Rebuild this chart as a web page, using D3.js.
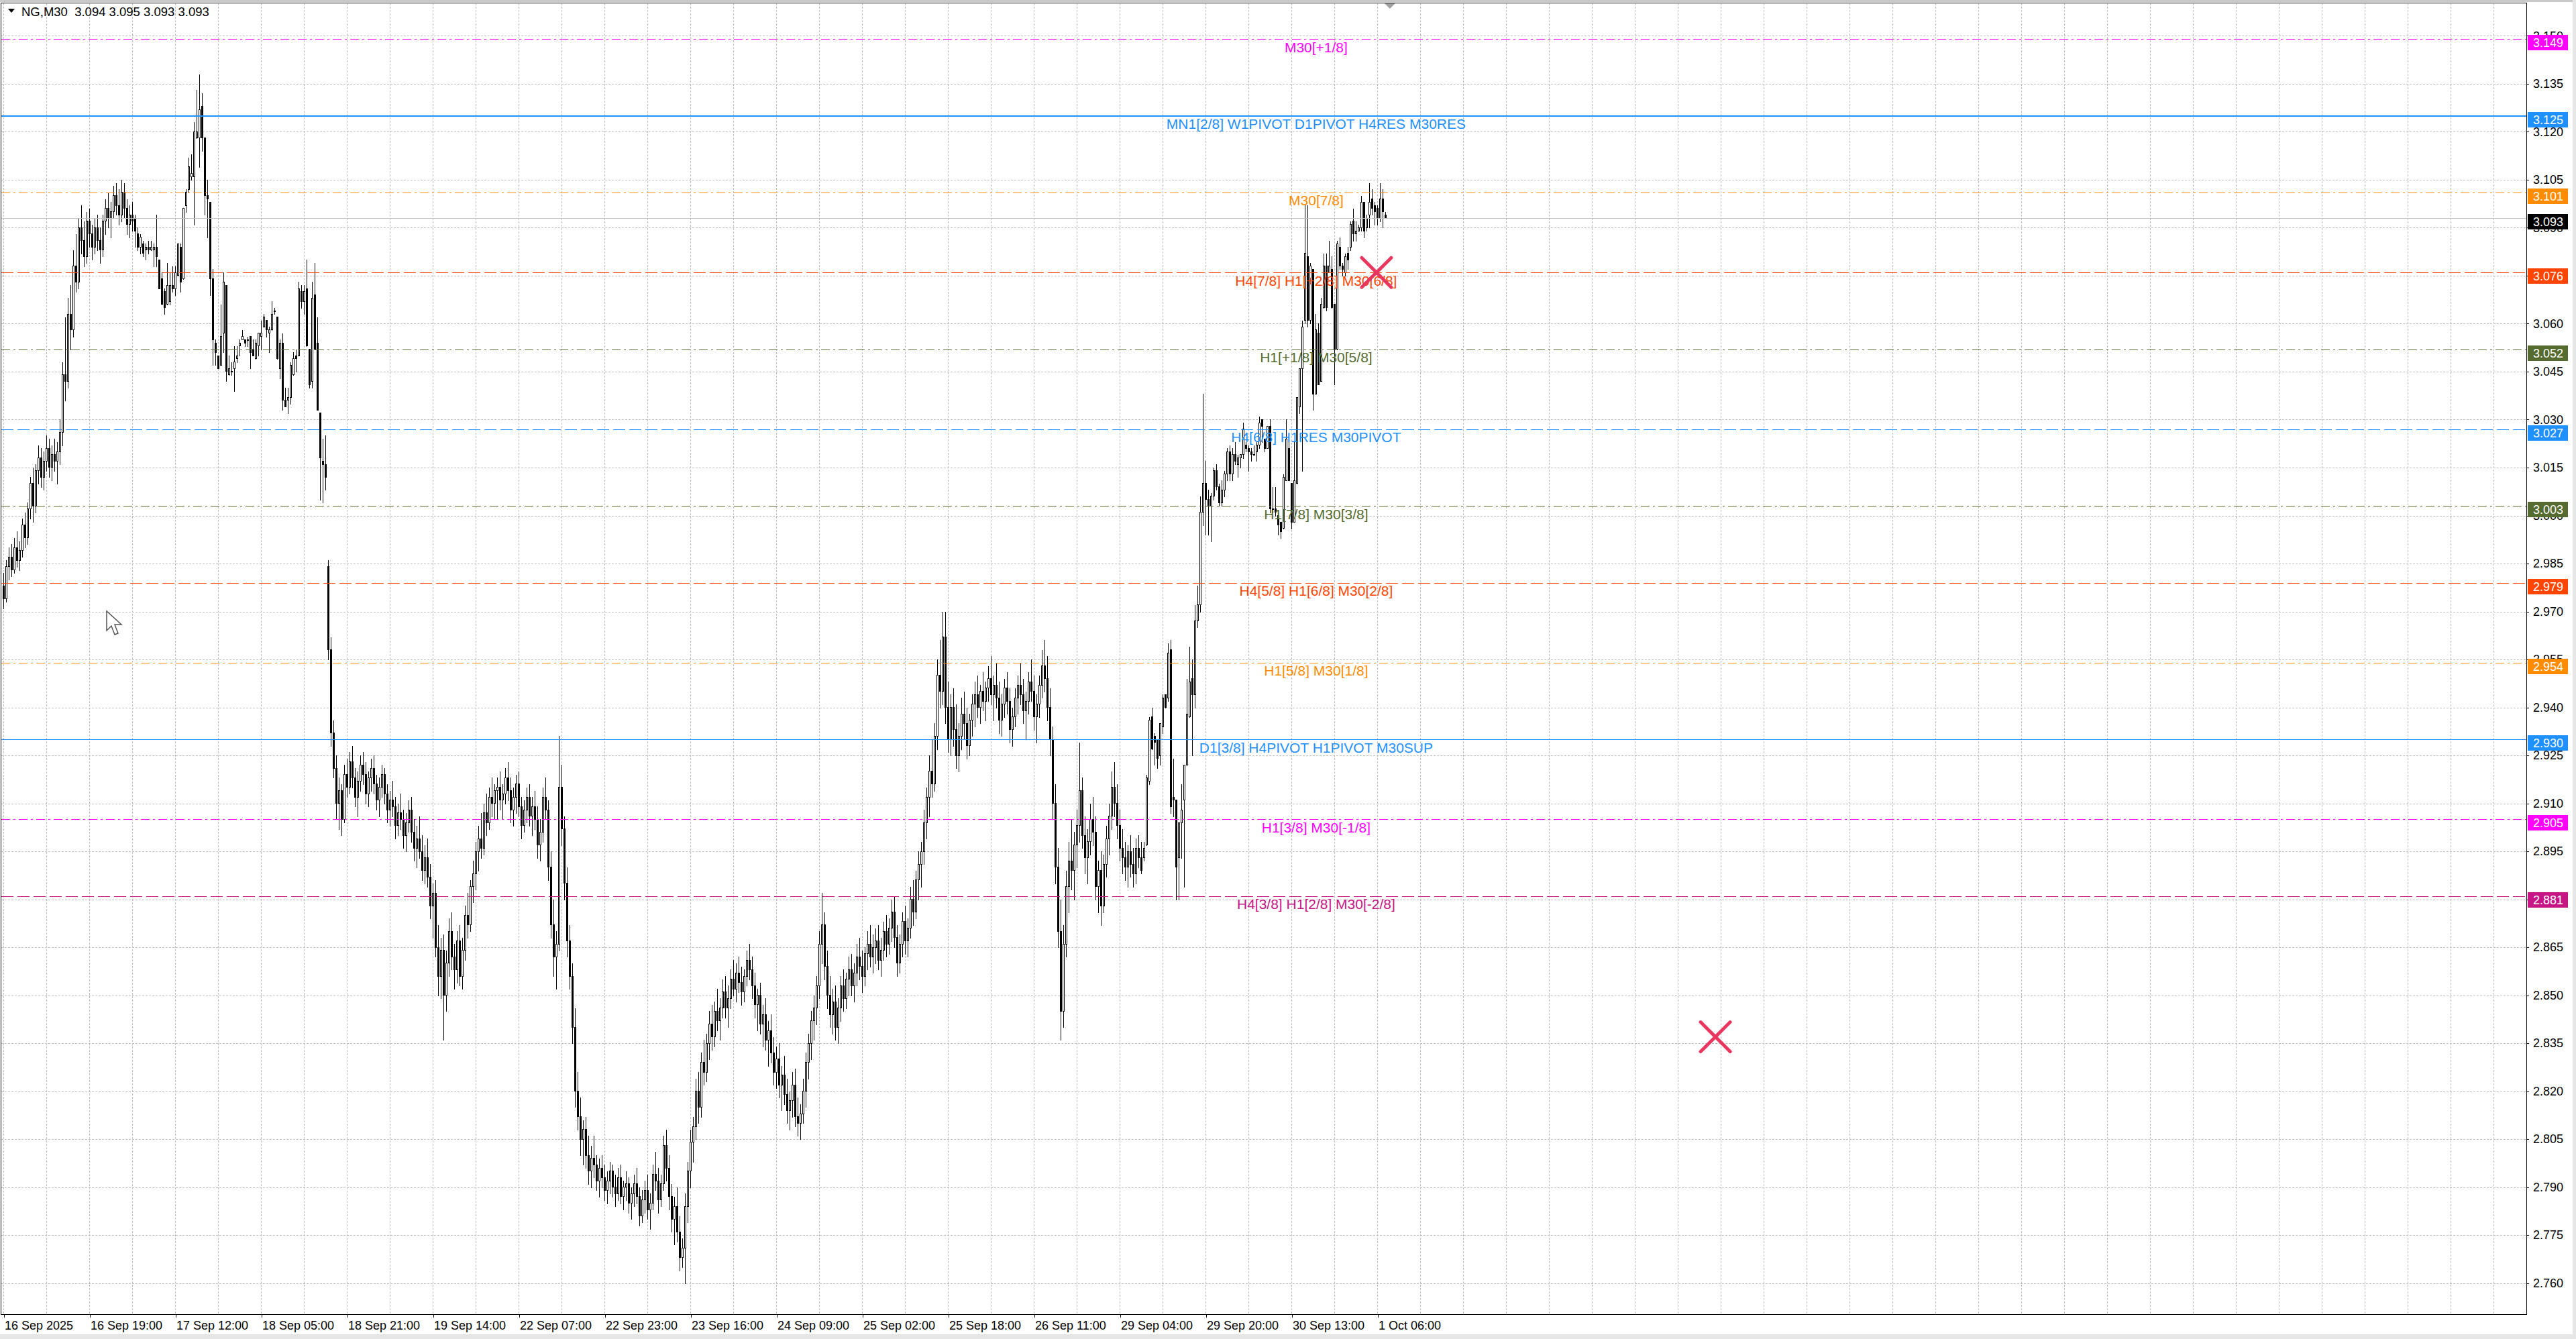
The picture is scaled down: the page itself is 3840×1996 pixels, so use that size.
<!DOCTYPE html>
<html>
<head>
<meta charset="utf-8">
<title>NG,M30</title>
<script src="https://d3js.org/d3.v7.min.js"></script>
<style>
  body { margin: 0; background: #ffffff; }
  svg { display: block; font-family: "Liberation Sans", Arial, sans-serif; }
</style>
</head>
<body>
<div id="chart"></div>
<script>
// NG M30 candles (bar 0 = 16 Sep, one bar per 30 min)
const opens = [
2.978,2.974,2.984,2.987,2.983,2.990,2.986,2.989,2.997,2.993,
3.002,3.010,3.003,3.014,3.018,3.012,3.017,3.021,3.015,3.019,
3.017,3.020,3.026,3.044,3.042,3.063,3.058,3.078,3.073,3.090,
3.086,3.081,3.092,3.088,3.084,3.090,3.086,3.083,3.092,3.096,
3.093,3.095,3.100,3.097,3.094,3.101,3.096,3.091,3.094,3.093,
3.088,3.084,3.085,3.083,3.084,3.083,3.083,3.084,3.080,3.074,
3.070,3.066,3.067,3.072,3.071,3.075,3.084,3.074,3.097,3.102,
3.106,3.106,3.118,3.118,3.128,3.118,3.100,3.098,3.074,3.054,
3.050,3.047,3.057,3.072,3.044,3.045,3.046,3.049,3.053,3.055,
3.055,3.055,3.056,3.052,3.049,3.053,3.056,3.059,3.061,3.057,
3.058,3.064,3.062,3.046,3.054,3.036,3.036,3.037,3.044,3.050,
3.050,3.070,3.067,3.071,3.052,3.042,3.069,3.054,3.032,3.017,
3.016,2.984,2.958,2.932,2.921,2.910,2.914,2.905,2.919,2.915,
2.923,2.918,2.912,2.917,2.922,2.919,2.913,2.918,2.921,2.916,
2.911,2.915,2.919,2.913,2.908,2.911,2.909,2.903,2.907,2.905,
2.900,2.904,2.908,2.901,2.896,2.899,2.895,2.889,2.893,2.887,
2.878,2.882,2.865,2.856,2.864,2.850,2.860,2.870,2.862,2.858,
2.867,2.856,2.864,2.875,2.872,2.884,2.888,2.895,2.899,2.896,
2.907,2.904,2.912,2.910,2.914,2.915,2.911,2.913,2.918,2.914,
2.908,2.912,2.916,2.909,2.903,2.908,2.912,2.906,2.909,2.905,
2.897,2.901,2.912,2.908,2.890,2.872,2.862,2.866,2.915,2.902,
2.885,2.867,2.856,2.840,2.820,2.812,2.805,2.808,2.800,2.795,
2.799,2.797,2.792,2.796,2.793,2.789,2.792,2.795,2.790,2.788,
2.793,2.787,2.790,2.791,2.785,2.788,2.791,2.787,2.781,2.786,
2.789,2.783,2.785,2.794,2.792,2.786,2.791,2.803,2.796,2.787,
2.780,2.784,2.776,2.768,2.771,2.784,2.795,2.804,2.809,2.820,
2.815,2.829,2.826,2.835,2.841,2.837,2.845,2.842,2.846,2.851,
2.846,2.849,2.855,2.852,2.857,2.854,2.851,2.856,2.861,2.858,
2.853,2.847,2.850,2.841,2.844,2.836,2.839,2.832,2.826,2.830,
2.822,2.825,2.819,2.814,2.817,2.822,2.812,2.810,2.813,2.820,
2.829,2.835,2.842,2.846,2.853,2.866,2.872,2.859,2.850,2.844,
2.848,2.840,2.846,2.853,2.849,2.855,2.858,2.853,2.857,2.862,
2.859,2.856,2.863,2.866,2.862,2.865,2.867,2.861,2.864,2.870,
2.866,2.871,2.876,2.868,2.860,2.866,2.873,2.867,2.871,2.880,
2.876,2.886,2.891,2.895,2.904,2.912,2.920,2.916,2.931,2.950,
2.945,2.962,2.940,2.930,2.940,2.933,2.925,2.931,2.938,2.935,
2.928,2.936,2.941,2.944,2.940,2.945,2.942,2.946,2.949,2.944,
2.947,2.943,2.936,2.941,2.946,2.942,2.933,2.937,2.943,2.947,
2.944,2.939,2.942,2.948,2.945,2.937,2.941,2.947,2.953,2.949,
2.940,2.930,2.910,2.890,2.870,2.845,2.866,2.884,2.892,2.889,
2.897,2.903,2.914,2.900,2.893,2.898,2.905,2.901,2.884,2.889,
2.878,2.891,2.899,2.906,2.915,2.910,2.903,2.896,2.893,2.890,
2.895,2.891,2.888,2.896,2.893,2.893,2.897,2.917,2.937,2.931,
2.930,2.925,2.934,2.944,2.943,2.958,2.912,2.911,2.893,2.904,
2.911,2.922,2.937,2.949,2.944,2.967,2.972,3.001,3.010,3.005,
3.003,3.006,3.014,3.009,3.004,3.008,3.013,3.020,3.013,3.019,
3.016,3.018,3.019,3.022,3.021,3.020,3.019,3.020,3.022,3.030,
3.024,3.021,3.028,3.002,3.002,3.000,2.998,2.996,3.011,3.021,
3.010,2.998,3.010,3.034,3.046,3.061,3.081,3.061,3.077,3.038,
3.057,3.042,3.065,3.078,3.076,3.077,3.066,3.052,3.084,3.078,
3.076,3.082,3.084,3.092,3.088,3.089,3.090,3.098,3.090,3.094,
3.099,3.097,3.096,3.093,3.099,3.094];

const highs = [
2.982,2.986,2.990,2.991,2.993,2.995,2.992,2.999,3.001,3.004,
3.012,3.015,3.016,3.022,3.021,3.020,3.025,3.024,3.022,3.024,
3.023,3.030,3.048,3.062,3.068,3.072,3.083,3.088,3.093,3.097,
3.092,3.095,3.096,3.091,3.093,3.094,3.090,3.094,3.099,3.101,
3.098,3.103,3.104,3.102,3.105,3.104,3.099,3.097,3.098,3.094,
3.090,3.088,3.086,3.085,3.086,3.086,3.085,3.094,3.080,3.076,
3.071,3.079,3.076,3.078,3.078,3.085,3.085,3.096,3.102,3.112,
3.113,3.123,3.133,3.138,3.132,3.118,3.105,3.098,3.077,3.055,
3.050,3.066,3.076,3.072,3.050,3.048,3.053,3.053,3.055,3.058,
3.055,3.056,3.056,3.055,3.055,3.057,3.061,3.063,3.061,3.059,
3.067,3.065,3.062,3.055,3.057,3.040,3.040,3.048,3.051,3.052,
3.073,3.072,3.072,3.080,3.052,3.073,3.079,3.062,3.032,3.024,
3.025,2.986,2.962,2.936,2.925,2.918,2.916,2.922,2.924,2.926,
2.928,2.921,2.920,2.925,2.926,2.923,2.920,2.924,2.925,2.919,
2.918,2.922,2.921,2.916,2.914,2.917,2.912,2.910,2.913,2.908,
2.907,2.911,2.912,2.905,2.903,2.906,2.900,2.897,2.899,2.891,
2.885,2.886,2.872,2.868,2.869,2.864,2.874,2.876,2.866,2.870,
2.872,2.868,2.878,2.882,2.886,2.892,2.898,2.903,2.907,2.910,
2.913,2.915,2.918,2.916,2.918,2.920,2.916,2.921,2.923,2.918,
2.915,2.919,2.920,2.912,2.911,2.915,2.916,2.912,2.914,2.909,
2.905,2.915,2.918,2.911,2.895,2.880,2.870,2.931,2.922,2.906,
2.890,2.872,2.860,2.846,2.826,2.818,2.811,2.812,2.806,2.803,
2.806,2.800,2.799,2.800,2.797,2.795,2.798,2.797,2.794,2.796,
2.797,2.792,2.795,2.793,2.790,2.794,2.796,2.790,2.789,2.792,
2.794,2.788,2.797,2.801,2.796,2.794,2.806,2.808,2.800,2.791,
2.787,2.790,2.781,2.774,2.788,2.798,2.808,2.812,2.824,2.826,
2.832,2.836,2.838,2.845,2.847,2.848,2.852,2.849,2.855,2.856,
2.853,2.858,2.861,2.860,2.862,2.859,2.858,2.864,2.866,2.862,
2.857,2.852,2.854,2.847,2.849,2.842,2.844,2.837,2.834,2.835,
2.828,2.831,2.824,2.820,2.826,2.827,2.818,2.816,2.824,2.832,
2.838,2.845,2.850,2.856,2.870,2.882,2.876,2.864,2.856,2.852,
2.853,2.849,2.856,2.858,2.857,2.862,2.863,2.860,2.866,2.868,
2.864,2.865,2.870,2.872,2.869,2.871,2.872,2.868,2.873,2.875,
2.874,2.880,2.881,2.872,2.869,2.876,2.878,2.874,2.884,2.886,
2.889,2.895,2.898,2.908,2.915,2.925,2.930,2.935,2.955,2.961,
2.970,2.970,2.948,2.944,2.946,2.941,2.935,2.943,2.945,2.940,
2.938,2.944,2.948,2.950,2.947,2.951,2.948,2.953,2.956,2.950,
2.954,2.948,2.944,2.949,2.951,2.946,2.940,2.946,2.950,2.954,
2.949,2.945,2.951,2.955,2.950,2.944,2.950,2.958,2.961,2.956,
2.946,2.934,2.916,2.896,2.880,2.872,2.889,2.898,2.905,2.901,
2.908,2.929,2.918,2.906,2.902,2.910,2.912,2.906,2.892,2.895,
2.894,2.903,2.910,2.920,2.923,2.916,2.908,2.902,2.898,2.897,
2.900,2.896,2.899,2.900,2.898,2.898,2.919,2.937,2.940,2.932,
2.930,2.935,2.944,2.944,2.960,2.961,2.924,2.911,2.904,2.916,
2.922,2.949,2.959,2.955,2.972,2.978,3.006,3.038,3.017,3.008,
3.007,3.015,3.016,3.010,3.011,3.014,3.021,3.022,3.021,3.023,
3.019,3.019,3.029,3.023,3.022,3.021,3.022,3.023,3.031,3.030,
3.024,3.028,3.030,3.009,3.009,3.001,2.998,3.013,3.030,3.023,
3.010,3.023,3.037,3.046,3.061,3.097,3.097,3.079,3.077,3.063,
3.060,3.068,3.082,3.082,3.086,3.081,3.066,3.086,3.087,3.079,
3.082,3.084,3.092,3.096,3.092,3.091,3.100,3.098,3.094,3.104,
3.102,3.098,3.097,3.104,3.102,3.095];

const lows = [
2.971,2.973,2.980,2.981,2.982,2.984,2.983,2.987,2.990,2.991,
2.999,2.998,3.001,3.010,3.009,3.008,3.014,3.012,3.011,3.014,
3.010,3.016,3.022,3.036,3.040,3.052,3.056,3.070,3.071,3.082,
3.078,3.079,3.084,3.080,3.082,3.083,3.079,3.081,3.088,3.090,
3.087,3.093,3.094,3.091,3.092,3.093,3.088,3.087,3.089,3.084,
3.083,3.082,3.081,3.080,3.082,3.083,3.078,3.078,3.071,3.066,
3.063,3.066,3.066,3.070,3.069,3.075,3.070,3.074,3.095,3.101,
3.105,3.091,3.118,3.109,3.114,3.094,3.087,3.069,3.047,3.047,
3.046,3.047,3.051,3.042,3.044,3.044,3.039,3.048,3.050,3.055,
3.053,3.053,3.046,3.050,3.049,3.050,3.052,3.059,3.056,3.051,
3.058,3.063,3.049,3.043,3.033,3.034,3.032,3.035,3.044,3.045,
3.050,3.065,3.063,3.053,3.040,3.040,3.052,3.033,3.005,3.004,
3.008,2.955,2.928,2.918,2.905,2.902,2.900,2.904,2.912,2.913,
2.915,2.909,2.906,2.914,2.916,2.910,2.909,2.914,2.913,2.908,
2.906,2.912,2.910,2.904,2.903,2.906,2.899,2.900,2.902,2.896,
2.895,2.901,2.898,2.892,2.890,2.893,2.886,2.885,2.884,2.874,
2.868,2.862,2.850,2.849,2.836,2.845,2.856,2.858,2.852,2.854,
2.853,2.852,2.861,2.868,2.870,2.879,2.883,2.889,2.893,2.894,
2.900,2.902,2.906,2.905,2.905,2.908,2.905,2.910,2.911,2.904,
2.903,2.907,2.906,2.899,2.901,2.904,2.903,2.900,2.902,2.893,
2.892,2.898,2.905,2.886,2.868,2.856,2.852,2.864,2.897,2.880,
2.862,2.852,2.835,2.815,2.808,2.800,2.797,2.796,2.791,2.790,
2.793,2.789,2.787,2.790,2.786,2.785,2.788,2.787,2.784,2.786,
2.785,2.783,2.786,2.782,2.780,2.784,2.785,2.778,2.779,2.782,
2.780,2.777,2.783,2.789,2.782,2.784,2.789,2.792,2.783,2.776,
2.772,2.773,2.764,2.765,2.760,2.779,2.790,2.798,2.805,2.810,
2.812,2.822,2.823,2.830,2.833,2.834,2.839,2.836,2.843,2.843,
2.840,2.846,2.850,2.848,2.851,2.847,2.848,2.853,2.855,2.849,
2.843,2.839,2.838,2.834,2.833,2.828,2.829,2.822,2.821,2.818,
2.814,2.816,2.810,2.808,2.812,2.809,2.806,2.805,2.810,2.815,
2.824,2.830,2.836,2.841,2.849,2.860,2.855,2.846,2.840,2.838,
2.836,2.835,2.842,2.845,2.846,2.850,2.850,2.848,2.853,2.855,
2.851,2.853,2.858,2.859,2.857,2.860,2.858,2.856,2.861,2.862,
2.863,2.867,2.865,2.856,2.857,2.862,2.863,2.862,2.868,2.872,
2.874,2.880,2.884,2.891,2.899,2.906,2.912,2.914,2.927,2.940,
2.941,2.935,2.926,2.925,2.928,2.921,2.920,2.927,2.930,2.924,
2.925,2.931,2.934,2.937,2.935,2.939,2.936,2.942,2.941,2.936,
2.940,2.932,2.931,2.937,2.938,2.929,2.928,2.934,2.938,2.941,
2.935,2.930,2.938,2.942,2.933,2.929,2.937,2.943,2.945,2.936,
2.925,2.905,2.885,2.865,2.836,2.840,2.862,2.876,2.883,2.880,
2.890,2.898,2.896,2.888,2.885,2.894,2.897,2.880,2.876,2.872,
2.876,2.887,2.894,2.902,2.906,2.899,2.892,2.888,2.886,2.884,
2.887,2.884,2.885,2.890,2.888,2.892,2.897,2.916,2.927,2.922,
2.921,2.922,2.932,2.940,2.942,2.907,2.906,2.880,2.880,2.893,
2.884,2.922,2.937,2.925,2.940,2.965,2.970,2.997,2.994,2.994,
2.992,3.005,3.008,3.003,3.003,3.006,3.011,3.011,3.011,3.016,
3.012,3.015,3.018,3.020,3.014,3.017,3.019,3.017,3.021,3.023,
3.020,3.021,3.001,3.001,3.000,2.994,2.993,2.996,3.011,3.011,
2.996,2.998,3.010,3.032,3.014,3.060,3.059,3.060,3.033,3.038,
3.041,3.042,3.065,3.064,3.076,3.065,3.041,3.052,3.077,3.075,
3.075,3.077,3.083,3.086,3.086,3.089,3.089,3.087,3.089,3.090,
3.094,3.091,3.091,3.092,3.090,3.093];

const closes = [
2.974,2.984,2.987,2.983,2.990,2.986,2.989,2.997,2.993,3.002,
3.010,3.003,3.014,3.018,3.012,3.017,3.021,3.015,3.019,3.017,
3.020,3.026,3.044,3.042,3.063,3.058,3.078,3.073,3.090,3.086,
3.081,3.092,3.088,3.084,3.090,3.086,3.083,3.092,3.096,3.093,
3.095,3.100,3.097,3.094,3.101,3.096,3.091,3.094,3.092,3.089,
3.084,3.087,3.082,3.084,3.083,3.084,3.084,3.081,3.071,3.066,
3.065,3.072,3.072,3.071,3.076,3.085,3.073,3.096,3.101,3.109,
3.107,3.120,3.120,3.127,3.118,3.100,3.099,3.074,3.055,3.051,
3.046,3.056,3.073,3.045,3.046,3.045,3.048,3.050,3.054,3.056,
3.054,3.055,3.051,3.050,3.054,3.057,3.057,3.062,3.058,3.058,
3.063,3.064,3.049,3.054,3.036,3.034,3.037,3.047,3.049,3.049,
3.071,3.067,3.070,3.053,3.041,3.068,3.052,3.033,3.018,3.016,
3.012,2.958,2.932,2.921,2.910,2.914,2.905,2.919,2.915,2.923,
2.918,2.912,2.917,2.922,2.919,2.913,2.918,2.921,2.916,2.911,
2.915,2.919,2.913,2.908,2.911,2.909,2.903,2.907,2.905,2.900,
2.904,2.908,2.901,2.896,2.899,2.895,2.889,2.893,2.887,2.878,
2.882,2.865,2.856,2.864,2.850,2.860,2.870,2.862,2.858,2.867,
2.856,2.864,2.875,2.872,2.884,2.888,2.895,2.899,2.896,2.907,
2.904,2.912,2.910,2.914,2.915,2.911,2.913,2.918,2.914,2.908,
2.912,2.916,2.909,2.903,2.908,2.912,2.906,2.909,2.905,2.897,
2.901,2.912,2.908,2.890,2.872,2.862,2.866,2.915,2.902,2.885,
2.867,2.856,2.840,2.820,2.812,2.805,2.808,2.800,2.795,2.799,
2.797,2.792,2.796,2.793,2.789,2.792,2.795,2.790,2.788,2.793,
2.787,2.790,2.791,2.785,2.788,2.791,2.787,2.781,2.786,2.789,
2.783,2.785,2.794,2.792,2.786,2.791,2.803,2.796,2.787,2.780,
2.784,2.776,2.768,2.771,2.784,2.795,2.804,2.809,2.820,2.815,
2.829,2.826,2.835,2.841,2.837,2.845,2.842,2.846,2.851,2.846,
2.849,2.855,2.852,2.857,2.854,2.851,2.856,2.861,2.858,2.853,
2.847,2.850,2.841,2.844,2.836,2.839,2.832,2.826,2.830,2.822,
2.825,2.819,2.814,2.817,2.822,2.812,2.810,2.813,2.820,2.829,
2.835,2.842,2.846,2.853,2.866,2.872,2.859,2.850,2.844,2.848,
2.840,2.846,2.853,2.849,2.855,2.858,2.853,2.857,2.862,2.859,
2.856,2.863,2.866,2.862,2.865,2.867,2.861,2.864,2.870,2.866,
2.871,2.876,2.868,2.860,2.866,2.873,2.867,2.871,2.880,2.876,
2.886,2.891,2.895,2.904,2.912,2.920,2.916,2.931,2.950,2.945,
2.962,2.940,2.930,2.940,2.933,2.925,2.931,2.938,2.935,2.928,
2.936,2.941,2.944,2.940,2.945,2.942,2.946,2.949,2.944,2.947,
2.943,2.936,2.941,2.946,2.942,2.933,2.937,2.943,2.947,2.944,
2.939,2.942,2.948,2.945,2.937,2.941,2.947,2.953,2.949,2.940,
2.930,2.910,2.890,2.870,2.845,2.866,2.884,2.892,2.889,2.897,
2.903,2.914,2.900,2.893,2.898,2.905,2.901,2.884,2.889,2.878,
2.891,2.899,2.906,2.915,2.910,2.903,2.896,2.893,2.890,2.895,
2.891,2.888,2.896,2.893,2.889,2.896,2.918,2.936,2.927,2.929,
2.924,2.935,2.943,2.940,2.957,2.909,2.911,2.890,2.904,2.908,
2.922,2.938,2.948,2.944,2.967,2.972,3.001,3.010,3.005,3.003,
3.006,3.014,3.009,3.004,3.008,3.013,3.020,3.013,3.019,3.017,
3.018,3.019,3.027,3.021,3.020,3.019,3.019,3.022,3.029,3.028,
3.021,3.028,3.002,3.002,3.001,2.997,2.995,3.012,3.024,3.011,
2.998,3.011,3.037,3.046,3.059,3.082,3.061,3.078,3.038,3.058,
3.041,3.066,3.078,3.065,3.078,3.065,3.052,3.085,3.078,3.077,
3.081,3.080,3.091,3.088,3.089,3.090,3.098,3.089,3.093,3.098,
3.096,3.095,3.093,3.099,3.095,3.093];

// time axis labels, one every 32 bars
const timeLabels = ["16 Sep 2025","16 Sep 19:00","17 Sep 12:00","18 Sep 05:00","18 Sep 21:00",
  "19 Sep 14:00","22 Sep 07:00","22 Sep 23:00","23 Sep 16:00","24 Sep 09:00","25 Sep 02:00",
  "25 Sep 18:00","26 Sep 11:00","29 Sep 04:00","29 Sep 20:00","30 Sep 13:00","1 Oct 06:00"];

// price axis ticks
const priceTicks = [2.760,2.775,2.790,2.805,2.820,2.835,2.850,2.865,2.880,2.895,2.910,2.925,
  2.940,2.955,2.970,2.985,3.000,3.015,3.030,3.045,3.060,3.075,3.090,3.105,3.120,3.135,3.150];

// Murrey / pivot levels
const levelPrices = [3.149, 3.125, 3.101, 3.076, 3.052, 3.027, 3.003, 2.979, 2.954, 2.930, 2.905, 2.881];
const levelNames = ["M30[+1/8]", "MN1[2/8] W1PIVOT D1PIVOT H4RES M30RES", "M30[7/8]",
  "H4[7/8] H1[+2/8] M30[6/8]", "H1[+1/8] M30[5/8]", "H4[6/8] H1RES M30PIVOT", "H1[7/8] M30[3/8]",
  "H4[5/8] H1[6/8] M30[2/8]", "H1[5/8] M30[1/8]", "D1[3/8] H4PIVOT H1PIVOT M30SUP",
  "H1[3/8] M30[-1/8]", "H4[3/8] H1[2/8] M30[-2/8]"];
const levelColors = ["#FF00FF","#1E90FF","#FF8C00","#FF4500","#556B2F","#1E90FF",
  "#556B2F","#FF4500","#FF8C00","#1E90FF","#FF00FF","#C71585"];
const levelStyles = ["dashdot","thick","dashdot","dash","dashdot","dash",
  "dashdot","dash","dashdot","solid","dashdot","dash"];

const bidPrice = 3.093;
const titleText = "NG,M30  3.094 3.095 3.093 3.093";

// cross markers (bar index, price)
const markerBars = [511.6, 637.9];
const markerPrices = [3.076, 2.837];

// ---- layout
const width = 3840, height = 1996;
const plotL = 2, plotT = 5, plotR = 3766, plotB = 1959;
const labelBar = 489.1;   // where level texts are centred

const x = d3.scaleLinear().domain([0, (plotR - 5.5) / 4]).range([5.5, plotR]);
const y = d3.scaleLinear().domain([2.760, 3.135]).range([1912.7, 124.9]);

const svg = d3.select("#chart").append("svg")
  .attr("width", width)
  .attr("height", height);

svg.append("rect").attr("width", width).attr("height", height).attr("fill", "#fff");

// window frame
svg.append("rect").attr("x", 0).attr("y", 0).attr("width", width).attr("height", 3).attr("fill", "#c8c8c8");
svg.append("rect").attr("x", 0).attr("y", 1989).attr("width", width).attr("height", 7).attr("fill", "#e6e6e6");
svg.append("rect").attr("x", 3835).attr("y", 0).attr("width", 5).attr("height", height).attr("fill", "#e6e6e6");

// grid
const grid = svg.append("g").attr("shape-rendering", "crispEdges")
  .attr("stroke", "#c0c0c0").attr("stroke-dasharray", "3,2");
grid.selectAll("line.h").data(priceTicks.filter(p => y(p) > plotT && y(p) < plotB)).join("line")
  .attr("x1", plotL).attr("x2", plotR)
  .attr("y1", d => Math.round(y(d)) + 0.5).attr("y2", d => Math.round(y(d)) + 0.5);
const vBars = d3.range(0, 60).map(i => i * 16).filter(b => x(b) < plotR - 2);
grid.selectAll("line.v").data(vBars).join("line")
  .attr("x1", d => x(d)).attr("x2", d => x(d))
  .attr("y1", plotT).attr("y2", plotB);

// candles
const bars = opens.map((o, i) => ({i, o, h: highs[i], l: lows[i], c: closes[i]}));
const cg = svg.append("g").attr("shape-rendering", "crispEdges");
cg.selectAll("line").data(bars).join("line")
  .attr("x1", d => x(d.i)).attr("x2", d => x(d.i))
  .attr("y1", d => y(Math.max(d.h, d.o, d.c)))
  .attr("y2", d => y(Math.min(d.l, d.o, d.c)) + 1)
  .attr("stroke", "#000");
cg.selectAll("rect").data(bars).join("rect")
  .attr("x", d => x(d.i) - 1)
  .attr("width", 2)
  .attr("y", d => y(Math.max(d.o, d.c)))
  .attr("height", d => Math.max(1, Math.abs(y(d.o) - y(d.c))))
  .attr("fill", d => d.c >= d.o ? "#fff" : "#000")
  .attr("stroke", "#000");

// bid line
svg.append("line")
  .attr("x1", plotL).attr("x2", plotR)
  .attr("y1", Math.round(y(bidPrice)) + 0.5).attr("y2", Math.round(y(bidPrice)) + 0.5)
  .attr("stroke", "#c0c0c0").attr("shape-rendering", "crispEdges");

// level lines
const dashes = {dashdot: "13,5,3,5", dash: "18,6", solid: null, thick: null};
const levels = levelPrices.map((p, i) => ({p, name: levelNames[i], color: levelColors[i], style: levelStyles[i]}));
const lg = svg.append("g");
lg.selectAll("line").data(levels).join("line")
  .attr("x1", plotL).attr("x2", plotR)
  .attr("y1", d => Math.round(y(d.p)) + (d.style === "thick" ? 0 : 0.5))
  .attr("y2", d => Math.round(y(d.p)) + (d.style === "thick" ? 0 : 0.5))
  .attr("stroke", d => d.color)
  .attr("stroke-width", d => d.style === "thick" ? 2 : 1)
  .attr("stroke-dasharray", d => dashes[d.style])
  .attr("shape-rendering", "crispEdges");
lg.selectAll("text").data(levels).join("text")
  .attr("x", x(labelBar))
  .attr("y", d => y(d.p) + 12)
  .attr("dy", "0.35em")
  .attr("text-anchor", "middle")
  .attr("font-size", 21)
  .attr("fill", d => d.color)
  .text(d => d.name);

// frame of the plot
svg.append("rect")
  .attr("x", 1.5).attr("y", 4.5).attr("width", plotR - 1).attr("height", plotB - 4)
  .attr("fill", "none").attr("stroke", "#000").attr("shape-rendering", "crispEdges");

// price axis (right)
const yAxis = d3.axisRight(y).tickValues(priceTicks.filter(p => y(p) > 20 && y(p) < plotB))
  .tickFormat(d3.format(".3f")).tickSize(4).tickPadding(6);
const ya = svg.append("g").attr("transform", `translate(${plotR},0)`).call(yAxis);
ya.select(".domain").remove();
ya.selectAll("line").attr("stroke", "#000").attr("shape-rendering", "crispEdges");
ya.selectAll("text").attr("font-size", 18).attr("fill", "#000")
  .attr("font-family", "'Liberation Sans', Arial, sans-serif");

// time axis (bottom)
const labelBars = timeLabels.map((t, k) => k * 32);
const xAxis = d3.axisBottom(x).tickValues(labelBars)
  .tickFormat((d, i) => timeLabels[i]).tickSize(5).tickPadding(5);
const xa = svg.append("g").attr("transform", `translate(0,${plotB})`).call(xAxis);
xa.select(".domain").remove();
xa.selectAll("line").attr("stroke", "#000").attr("shape-rendering", "crispEdges");
xa.selectAll("text").attr("font-size", 18).attr("fill", "#000")
  .attr("text-anchor", "start").attr("dx", 1)
  .attr("font-family", "'Liberation Sans', Arial, sans-serif");

// coloured price tags on the axis (MT4 draws them a little below the level)
const tags = levels.map(d => ({p: d.p, color: d.color})).concat([{p: bidPrice, color: "#000"}]);
const tg = svg.append("g");
tg.selectAll("rect").data(tags).join("rect")
  .attr("x", plotR + 2).attr("width", 60)
  .attr("y", d => Math.round(y(d.p)) - 6).attr("height", 23)
  .attr("fill", d => d.color);
tg.selectAll("text").data(tags).join("text")
  .attr("x", plotR + 10)
  .attr("y", d => Math.round(y(d.p)) + 5.5)
  .attr("dy", "0.35em")
  .attr("font-size", 18)
  .attr("fill", "#fff")
  .text(d => d3.format(".3f")(d.p));

// title
svg.append("path").attr("d", "M12,13 L22,13 L17,19 Z").attr("fill", "#000");
svg.append("text")
  .attr("x", 32).attr("y", 24)
  .attr("font-size", 18.5)
  .attr("fill", "#000")
  .style("white-space", "pre")
  .text(titleText);

// chart shift marker
const sx = x(opens.length + 0.6);
svg.append("path").attr("d", `M${sx - 8},5 L${sx + 8},5 L${sx},13 Z`).attr("fill", "#a0a0a0");

// mouse pointer left on the chart
svg.append("path")
  .attr("d", "M159,911 L159,940 L166,933 L171,946 L176,944 L171,931 L181,931 Z")
  .attr("fill", "#fff").attr("stroke", "#555").attr("stroke-width", 1.5);

// cross markers
const marks = markerBars.map((b, i) => ({b, p: markerPrices[i]}));
const mg = svg.append("g").attr("stroke", "#e8365f").attr("stroke-width", 5).attr("stroke-linecap", "round");
marks.forEach(m => {
  const cx = x(m.b), cy = y(m.p), r = 22;
  mg.append("line").attr("x1", cx - r).attr("y1", cy - r).attr("x2", cx + r).attr("y2", cy + r);
  mg.append("line").attr("x1", cx - r).attr("y1", cy + r).attr("x2", cx + r).attr("y2", cy - r);
});
</script>
</body>
</html>
